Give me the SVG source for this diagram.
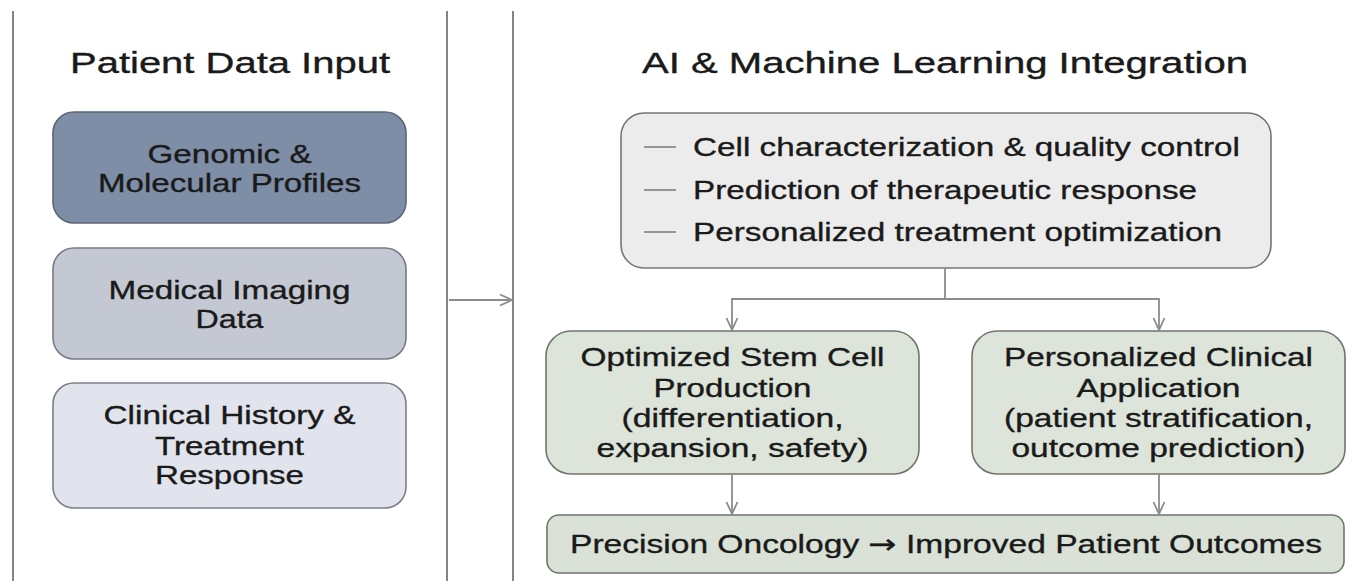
<svg xmlns="http://www.w3.org/2000/svg" width="1362" height="581" viewBox="0 0 1362 581">
<style>
text{font-family:"Liberation Sans",Arial,sans-serif;fill:#1a1a1a;stroke:#1a1a1a;stroke-width:0.35}
.title{font-size:29px}
.lbl{font-size:26px;text-anchor:middle}
.bul{font-size:26.5px}
.divider{stroke:#666;stroke-width:1.6;fill:none}
.conn{stroke:#8c8c8c;stroke-width:1.8;fill:none}
.dash{stroke:#959595;stroke-width:2}
.box{stroke-width:1.6}
.arrowglyph{font-family:"DejaVu Sans",sans-serif}
</style>
<defs>
<marker id="arr" viewBox="0 0 14 14" refX="13" refY="7" markerWidth="14" markerHeight="14" markerUnits="userSpaceOnUse" orient="auto">
<path d="M1,1.5 L13,7 L1,12.5" fill="none" stroke="#8c8c8c" stroke-width="1.8"/>
</marker>
</defs>
<rect width="1362" height="581" fill="#ffffff"/>
<g id="dividers">
<line class="divider" x1="13" y1="11" x2="13" y2="581"/>
<line class="divider" x1="447" y1="11" x2="447" y2="581"/>
<line class="divider" x1="513" y1="11" x2="513" y2="581"/>
</g>
<g id="title-left"><text class="title" x="230" y="73" text-anchor="middle" textLength="320" lengthAdjust="spacingAndGlyphs">Patient Data Input</text></g>
<g id="title-right"><text class="title" x="642" y="73" textLength="606" lengthAdjust="spacingAndGlyphs">AI &amp; Machine Learning Integration</text></g>
<g id="genomic">
<rect class="box" x="53" y="112" width="353" height="111" rx="21" fill="#7e8ea7" stroke="#5c6677"/>
<text class="lbl" x="229.5" y="163" textLength="164" lengthAdjust="spacingAndGlyphs">Genomic &amp;</text>
<text class="lbl" x="229.5" y="192" textLength="263" lengthAdjust="spacingAndGlyphs">Molecular Profiles</text>
</g>
<g id="imaging">
<rect class="box" x="53" y="248" width="353" height="111" rx="21" fill="#c4c8d2" stroke="#777b84"/>
<text class="lbl" x="229.5" y="299" textLength="242" lengthAdjust="spacingAndGlyphs">Medical Imaging</text>
<text class="lbl" x="229.5" y="328" textLength="68" lengthAdjust="spacingAndGlyphs">Data</text>
</g>
<g id="clinical">
<rect class="box" x="53" y="383" width="353" height="125" rx="21" fill="#e1e4ec" stroke="#7c7f86"/>
<text class="lbl" x="229.5" y="424" textLength="252" lengthAdjust="spacingAndGlyphs">Clinical History &amp;</text>
<text class="lbl" x="229.5" y="455" textLength="149" lengthAdjust="spacingAndGlyphs">Treatment</text>
<text class="lbl" x="229.5" y="484" textLength="149" lengthAdjust="spacingAndGlyphs">Response</text>
</g>
<g id="ai-box">
<rect class="box" x="621" y="113" width="650" height="155" rx="23" fill="#ececec" stroke="#757575"/>
<line class="dash" x1="644" y1="147" x2="676" y2="147"/>
<line class="dash" x1="644" y1="190" x2="676" y2="190"/>
<line class="dash" x1="644" y1="232" x2="676" y2="232"/>
<text class="bul" x="693" y="156" textLength="547" lengthAdjust="spacingAndGlyphs">Cell characterization &amp; quality control</text>
<text class="bul" x="693" y="199" textLength="504" lengthAdjust="spacingAndGlyphs">Prediction of therapeutic response</text>
<text class="bul" x="693" y="241" textLength="529" lengthAdjust="spacingAndGlyphs">Personalized treatment optimization</text>
</g>
<g id="production">
<rect class="box" x="546" y="331" width="373" height="143" rx="25" fill="#dde4da" stroke="#6f766d"/>
<text class="lbl" x="732.5" y="366" textLength="304" lengthAdjust="spacingAndGlyphs">Optimized Stem Cell</text>
<text class="lbl" x="732.5" y="397" textLength="158" lengthAdjust="spacingAndGlyphs">Production</text>
<text class="lbl" x="732.5" y="427" textLength="222" lengthAdjust="spacingAndGlyphs">(differentiation,</text>
<text class="lbl" x="732.5" y="457" textLength="272" lengthAdjust="spacingAndGlyphs">expansion, safety)</text>
</g>
<g id="clinical-app">
<rect class="box" x="972" y="331" width="373" height="143" rx="25" fill="#dde4da" stroke="#6f766d"/>
<text class="lbl" x="1158.5" y="366" textLength="309" lengthAdjust="spacingAndGlyphs">Personalized Clinical</text>
<text class="lbl" x="1158.5" y="397" textLength="164" lengthAdjust="spacingAndGlyphs">Application</text>
<text class="lbl" x="1158.5" y="427" textLength="309" lengthAdjust="spacingAndGlyphs">(patient stratification,</text>
<text class="lbl" x="1158.5" y="457" textLength="294" lengthAdjust="spacingAndGlyphs">outcome prediction)</text>
</g>
<g id="outcomes">
<rect class="box" x="547" y="515" width="797" height="58" rx="12" fill="#dae2d7" stroke="#6f766d"/>
<text class="lbl" x="946" y="553" textLength="752" lengthAdjust="spacingAndGlyphs">Precision Oncology <tspan class="arrowglyph">→</tspan> Improved Patient Outcomes</text>
</g>
<g id="connectors">
<line class="conn" x1="449" y1="300" x2="512" y2="300" marker-end="url(#arr)"/>
<polyline class="conn" points="945,268 945,299 732,299 732,330" marker-end="url(#arr)"/>
<polyline class="conn" points="945,299 1159,299 1159,330" marker-end="url(#arr)"/>
<line class="conn" x1="732" y1="474" x2="732" y2="514" marker-end="url(#arr)"/>
<line class="conn" x1="1159" y1="474" x2="1159" y2="514" marker-end="url(#arr)"/>
</g>
</svg>
